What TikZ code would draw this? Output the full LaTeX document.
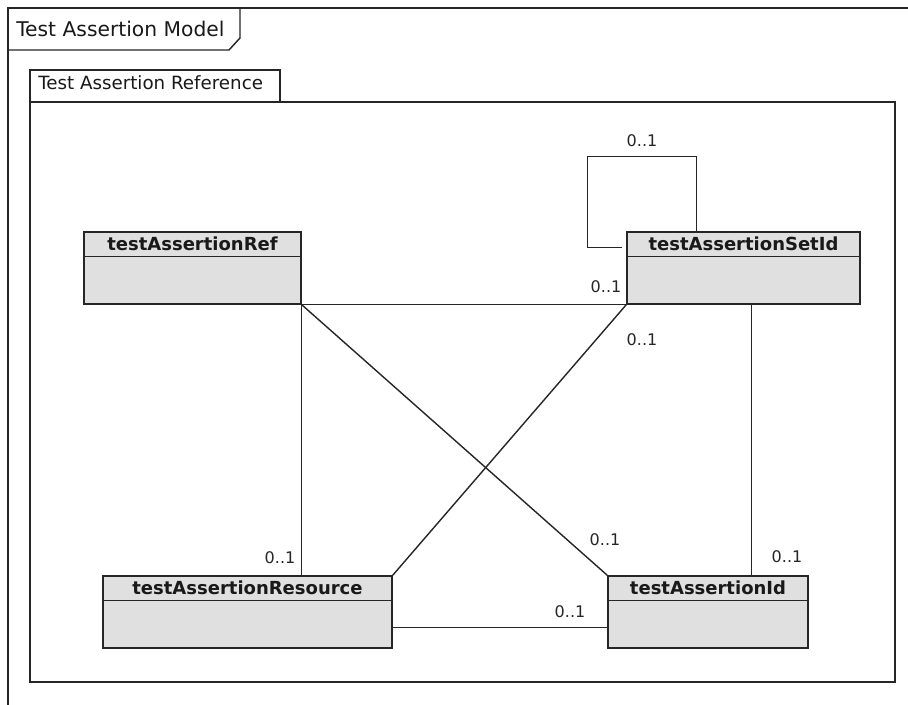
\documentclass[tikz,border=0pt]{standalone}
\usepackage{fontspec}
\setmainfont{DejaVu Sans}
\usetikzlibrary{fit,calc}
\begin{document}
\begin{tikzpicture}[x=0.75pt,y=-0.75pt,
  frameline/.style={draw=black!85, line width=1.1pt},
  umlbox/.style={draw=black!85, line width=1.1pt, fill=black!12, inner sep=0pt},
  conn/.style={draw=black!85, line width=1.05pt},
  hdr/.style={font=\fontsize{13.5}{16}\selectfont\bfseries, inner sep=0pt, text=black!90},
  mult/.style={font=\fontsize{12}{14}\selectfont, inner sep=0pt, text=black!85},
  ttl/.style={inner sep=0pt, anchor=base west, text=black!90}]
\useasboundingbox (0,0) rectangle (908,705);
\fill[white] (0,0) rectangle (908,705);

% outer frame
\draw[frameline] (908,8) -- (8,8) -- (8,705);
\draw[frameline] (240,8) -- (240,38) -- (229,50) -- (8,50);
\node[ttl, font=\fontsize{15.2}{17}\selectfont] (tmodel) at (16,37) {Test Assertion Model};

% inner frame
\draw[frameline] (30,102) rectangle (895,682);
\draw[frameline] (30,102) -- (30,70) -- (280,70) -- (280,102);
\node[ttl, font=\fontsize{13.7}{16}\selectfont] (tref) at (38,90) {Test Assertion Reference};

% boxes
\coordinate (r1) at (84,232); \coordinate (r2) at (301,304);
\node[umlbox, fit=(r1)(r2)] (ref) {};
\coordinate (s1) at (627,232); \coordinate (s2) at (860,304);
\node[umlbox, fit=(s1)(s2)] (setid) {};
\coordinate (c1) at (103,576); \coordinate (c2) at (392,648);
\node[umlbox, fit=(c1)(c2)] (resource) {};
\coordinate (d1) at (608,576); \coordinate (d2) at (808,648);
\node[umlbox, fit=(d1)(d2)] (id) {};

\foreach \b in {ref,setid,resource,id}{
  \draw[frameline] ([yshift=-18.75pt]\b.north west) -- ([yshift=-18.75pt]\b.north east);
}
\node[hdr] (refh) at ([yshift=-9.6pt]ref.north) {testAssertionRef};
\node[hdr] (setidh) at ([yshift=-9.6pt]setid.north) {testAssertionSetId};
\node[hdr] (resourceh) at ([yshift=-9.6pt]resource.north) {testAssertionResource};
\node[hdr] (idh) at ([yshift=-9.6pt]id.north) {testAssertionId};

% connectors
\draw[conn] (ref.south east) -- (setid.south west);
\draw[conn] (ref.south east) -- (ref.south east |- resource.north);
\draw[conn] (ref.south east) -- (id.north west);
\draw[conn] (setid.south west) -- (resource.north east);
\draw[conn] ([xshift=93.75pt]setid.south west) -- ([xshift=93.75pt]setid.south west |- id.north);
\draw[conn] ([yshift=-39pt]resource.north east) -- ([yshift=-39pt]resource.north east -| id.west);
\draw[conn] ([xshift=-3pt,yshift=-12pt]setid.north west) -- ++(-35,0) -- ++(0,-91) -| ([xshift=52.5pt]setid.north west);

% multiplicities
\node[mult] (m1) at (642,141) {0..1};
\node[mult] (m2) at (606,287) {0..1};
\node[mult] (m3) at (642,340) {0..1};
\node[mult] (m4) at (280,558) {0..1};
\node[mult] (m5) at (605,540) {0..1};
\node[mult] (m6) at (787,557) {0..1};
\node[mult] (m7) at (570,612) {0..1};
\end{tikzpicture}
\end{document}
